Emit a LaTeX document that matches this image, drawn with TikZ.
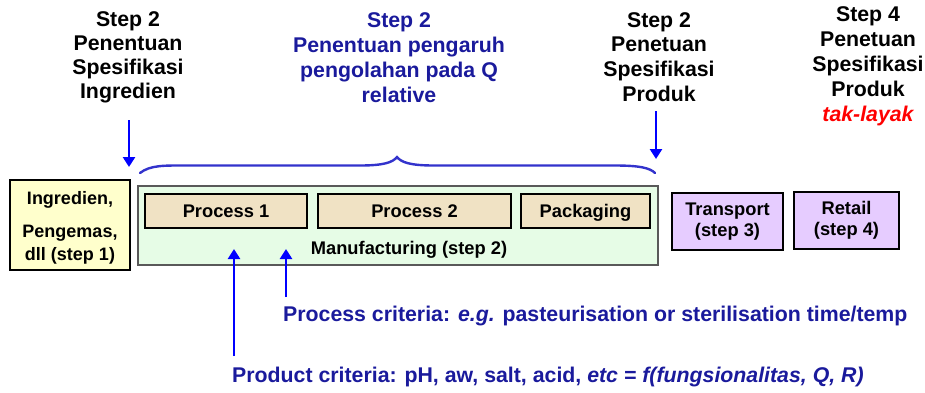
\documentclass[tikz,border=0pt]{standalone}
\usepackage{fontspec}
\setmainfont{Liberation Sans}
\usetikzlibrary{arrows.meta}
\definecolor{navy}{HTML}{1A1A9C}
\definecolor{bracecol}{HTML}{3333CC}
\definecolor{ingfill}{HTML}{FFFFCC}
\definecolor{mfgfill}{HTML}{E6FCE6}
\definecolor{procfill}{HTML}{F0E2C4}
\definecolor{distfill}{HTML}{E6CCFF}
\tikzset{
  heading/.style={align=center,font=\fontsize{21.3}{24}\selectfont\bfseries,inner sep=0pt},
  stagebox/.style={draw=black,line width=1.4pt,align=center,inner sep=0pt,
    font=\fontsize{18.3}{21}\selectfont\bfseries},
  procbox/.style={stagebox,fill=procfill,text height=15pt,text depth=2pt},
  distbox/.style={stagebox,fill=distfill},
  criteria/.style={anchor=west,inner sep=0pt,text=navy,font=\fontsize{21.3}{24}\selectfont\bfseries},
  pointer/.style={draw=blue,line width=2.8pt,-{Triangle[width=12pt,length=10pt]}},
}
\begin{document}
\begin{tikzpicture}[x=1pt,y=-1pt]
\useasboundingbox (0,0) rectangle (925,392);

% headings above the chain
\node[heading] (hing) at (128,57) {Step 2\\Penentuan\\Spesifikasi\\Ingredien};
\node[heading,text=navy,font=\fontsize{21.3}{25}\selectfont\bfseries] (hq) at (399,58)
  {Step 2\\Penentuan pengaruh\\pengolahan pada Q\\relative};
\node[heading,font=\fontsize{21.3}{24.7}\selectfont\bfseries] (hprod) at (659,57) {Step 2\\Penetuan\\Spesifikasi\\Produk};
\node[heading,font=\fontsize{21.3}{25}\selectfont\bfseries] (hunfit) at (868,66) {Step 4\\Penetuan\\Spesifikasi\\Produk\\{\color{red}\itshape tak-layak}};

% stages of the chain
\node[draw=black,line width=1.4pt,fill=ingfill,minimum width=120pt,minimum height=90pt,inner sep=0pt] (ing) at (70,225) {};
\node[align=center,inner sep=0pt,font=\fontsize{18}{23}\selectfont\bfseries] (inglbl) at (70,228)
  {Ingredien,\\[10pt]Pengemas,\\dll (step 1)};
\node[draw=black!65,line width=1.3pt,fill=mfgfill,minimum width=520pt,minimum height=79pt,inner sep=0pt] (mfg) at (398,225.5) {};
\node[procbox,minimum width=162pt,minimum height=34pt] (p1) at (226,211) {Process 1};
\node[procbox,minimum width=193pt,minimum height=34pt] (p2) at (414.5,211) {Process 2};
\node[procbox,minimum width=129pt,minimum height=34pt] (pack) at (585.5,211) {Packaging};
\node[inner sep=0pt,font=\fontsize{18.3}{21}\selectfont\bfseries] (mfglbl) at (409,250) {Manufacturing (step 2)};
\node[distbox,minimum width=111pt,minimum height=57pt] (trans) at (727.5,221.5) {Transport\\(step 3)};
\node[distbox,minimum width=105pt,minimum height=57pt] (retail) at (846.5,220.5) {Retail\\(step 4)};

% brace over manufacturing
\draw[bracecol,line width=2.4pt,line cap=round]
  (140,173) .. controls (150,165) and (165,165.5) .. (185,165.5)
  -- (360,165.5) .. controls (385,165.5) and (393,162) .. (397,157)
  .. controls (401,162) and (409,165.5) .. (434,165.5)
  -- (615,165.5) .. controls (640,165.5) and (650,168) .. (655,173);

% pointers from the headings
\coordinate (aing) at (129,120);
\coordinate (aprod) at (656,111);
\draw[pointer] (aing) -- (129,167);
\draw[pointer] (aprod) -- (656,159);

% criteria and their pointers
\node[criteria] (pcrit) at (283,316) {Process criteria: \textit{e.g.} pasteurisation or sterilisation time/temp};
\node[criteria] (qcrit) at (232,377) {Product criteria: pH, aw, salt, acid, \textit{etc = f(fungsionalitas, Q, R)}};
\coordinate (pfoot) at (286,297);
\coordinate (qfoot) at (234,356);
\draw[pointer] (pfoot) -- (286,249);
\draw[pointer] (qfoot) -- (234,249);
\end{tikzpicture}
\end{document}
